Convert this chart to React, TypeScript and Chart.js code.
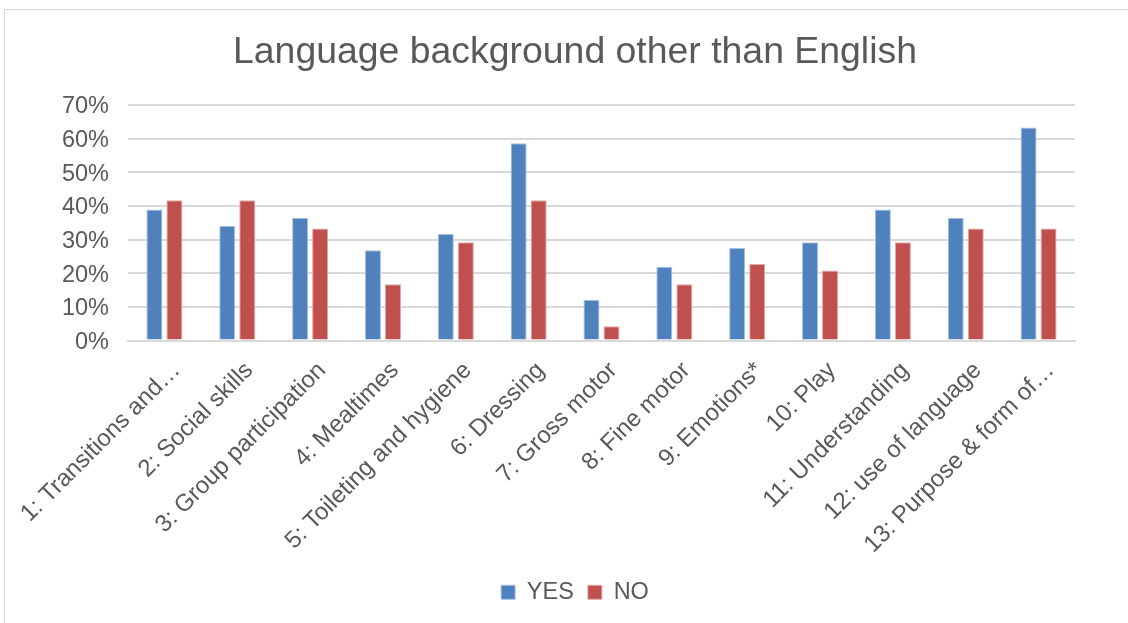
import React, { useEffect, useRef } from "react";
import { Chart, registerables } from "chart.js";

Chart.register(...registerables);

const categories = [
  "1: Transitions and…",
  "2: Social skills",
  "3: Group participation",
  "4: Mealtimes",
  "5: Toileting and hygiene",
  "6: Dressing",
  "7: Gross motor",
  "8: Fine motor",
  "9: Emotions*",
  "10: Play",
  "11: Understanding",
  "12: use of language",
  "13: Purpose & form of…",
];
const yesValues = [38.9, 34.1, 36.5, 26.8, 31.7, 58.6, 12.1, 21.9, 27.5, 29.2, 38.9, 36.5, 63.3];
const noValues = [41.7, 41.7, 33.3, 16.7, 29.2, 41.7, 4.2, 16.7, 22.7, 20.8, 29.2, 33.3, 33.3];
const seriesNames = ["YES", "NO"];
const yTicks = [0, 10, 20, 30, 40, 50, 60, 70];

const FONT = "'Liberation Sans', Arial, sans-serif";
const TEXT = "#595959";

export default function App() {
  const ref = useRef<HTMLCanvasElement | null>(null);
  useEffect(() => {
    document.body.style.margin = "0";
    const chart = new Chart(ref.current!, {
      type: "bar",
      data: {
        labels: categories,
        datasets: [
          {
            label: seriesNames[0],
            data: yesValues,
            backgroundColor: "#4F81BD",
            borderColor: "#A7C0DE",
            borderWidth: 1,
          },
          {
            label: seriesNames[1],
            data: noValues,
            backgroundColor: "#C0504D",
            borderColor: "#DFA8A6",
            borderWidth: 1,
          },
        ],
      },
      options: {
        responsive: false,
        animation: false,
        devicePixelRatio: 1,
        layout: { padding: { left: 32, right: 10, top: 20, bottom: 9 } },
        datasets: {
          bar: { categoryPercentage: 0.55, barPercentage: 0.8 },
        },
        plugins: {
          title: {
            display: true,
            text: "Language background other than English",
            color: TEXT,
            font: { family: FONT, size: 37.4, weight: "normal" },
            padding: { top: 10, bottom: 30 },
          },
          legend: {
            position: "bottom",
            labels: {
              color: TEXT,
              font: { family: FONT, size: 23.5 },
              boxWidth: 14,
              boxHeight: 14,
              padding: 14,
            },
          },
          tooltip: { enabled: false },
        },
        scales: {
          x: {
            grid: { display: false },
            border: { color: "#D9D9D9", width: 2 },
            afterFit: (scale: any) => {
              scale.height = 226;
              scale.paddingLeft = 0;
              scale.paddingRight = 0;
            },
            ticks: {
              color: TEXT,
              font: { family: FONT, size: 24 },
              minRotation: 45,
              maxRotation: 45,
              autoSkip: false,
              padding: 8,
              labelOffset: 12,
            },
          },
          y: {
            min: 0,
            max: 70,
            afterBuildTicks: (axis: any) => {
              axis.ticks = yTicks.map((v) => ({ value: v }));
            },
            afterFit: (scale: any) => {
              scale.width = 96;
              scale.paddingTop = 0;
            },
            grid: { color: "#D9D9D9", lineWidth: 2, drawTicks: false },
            border: { display: false },
            ticks: {
              color: TEXT,
              font: { family: FONT, size: 23.5 },
              padding: 19,
              labelOffset: 2,
              callback: (v: any) => v + "%",
            },
          },
          yRight: {
            position: "right",
            min: 0,
            max: 70,
            grid: { display: false, drawTicks: false },
            border: { display: false },
            ticks: { display: false },
            afterFit: (scale: any) => {
              scale.width = 43;
              scale.paddingTop = 0;
              scale.paddingBottom = 0;
            },
          },
        },
      },
    });
    return () => chart.destroy();
  }, []);
  return (
    <div style={{ position: "fixed", left: 0, top: 0, width: 1128, height: 623, background: "#fff", overflow: "hidden" }}>
      <div
        style={{
          position: "absolute",
          left: 4,
          top: 9,
          width: 1140,
          height: 640,
          border: "1px solid #D9D9D9",
          boxSizing: "border-box",
        }}
      />
      <canvas ref={ref} width={1128} height={623} style={{ position: "absolute", left: 0, top: 0 }} />
    </div>
  );
}
